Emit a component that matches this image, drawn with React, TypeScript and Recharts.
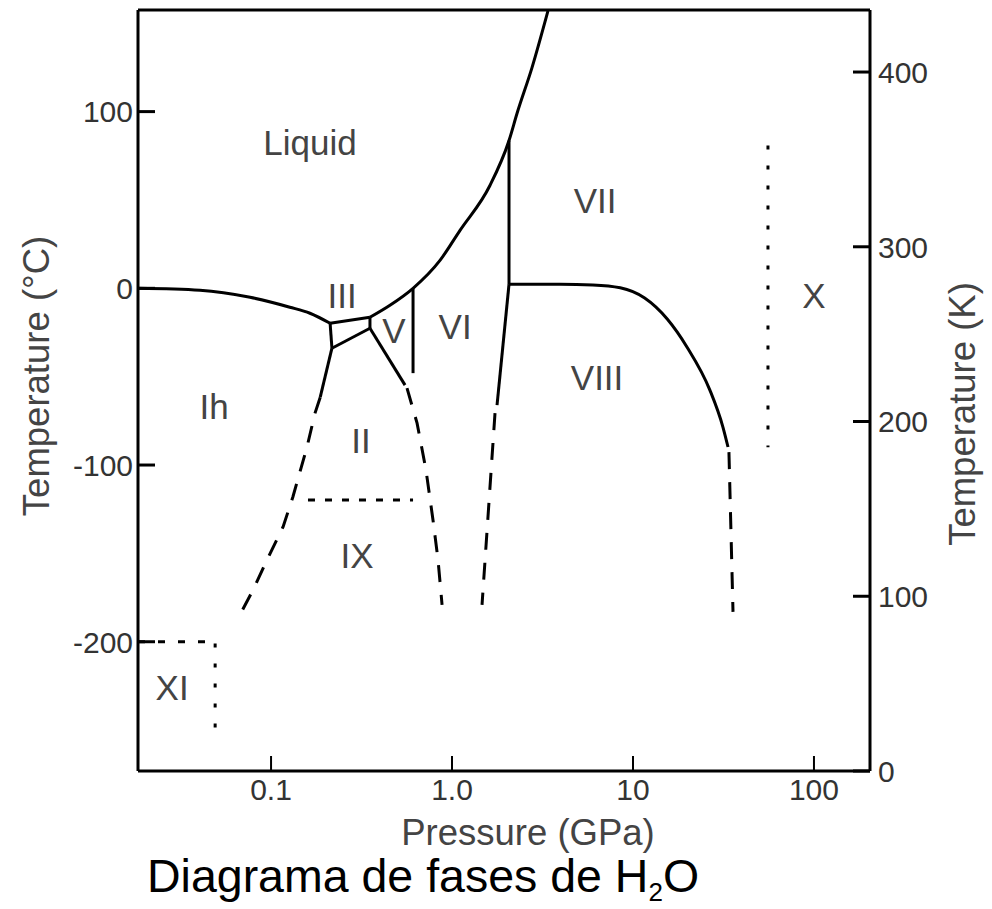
import { ComposedChart, Line, XAxis, YAxis, ReferenceDot, ReferenceLine } from "recharts";

const FONT = '"Liberation Sans", Arial, Helvetica, sans-serif';

type Pt = { p: number; t: number };

// pressure in GPa, temperature in °C
const ihLiquid: Pt[] = [
  { p: 0.0184, t: 0 },
  { p: 0.0405, t: -1.1 },
  { p: 0.0766, t: -5.1 },
  { p: 0.127, t: -10.7 },
  { p: 0.164, t: -14.1 },
  { p: 0.212, t: -19.8 },
];
const iiiLiquid: Pt[] = [
  { p: 0.212, t: -19.8 },
  { p: 0.352, t: -16.4 },
];
const highLiquid: Pt[] = [
  { p: 0.352, t: -16.4 },
  { p: 0.454, t: -9.6 },
  { p: 0.609, t: 0 },
  { p: 0.858, t: 15.8 },
  { p: 1.107, t: 32.8 },
  { p: 1.62, t: 58.2 },
  { p: 2.065, t: 83.6 },
  { p: 2.286, t: 98.9 },
  { p: 2.767, t: 124.9 },
  { p: 3.39, t: 157 },
];
const ihIii: Pt[] = [
  { p: 0.212, t: -19.8 },
  { p: 0.217, t: -33.9 },
];
const iiiIi: Pt[] = [
  { p: 0.217, t: -33.9 },
  { p: 0.352, t: -22.6 },
];
const iiiV: Pt[] = [
  { p: 0.352, t: -16.4 },
  { p: 0.352, t: -22.6 },
];
const iiV: Pt[] = [
  { p: 0.352, t: -22.6 },
  { p: 0.55, t: -54.8 },
];
const vVi: Pt[] = [
  { p: 0.609, t: 0 },
  { p: 0.609, t: -48 },
];
const ihIiSolid: Pt[] = [
  { p: 0.217, t: -33.9 },
  { p: 0.187, t: -61.6 },
];
const ihIiDashed: Pt[] = [
  { p: 0.187, t: -61.6 },
  { p: 0.175, t: -70.6 },
  { p: 0.158, t: -89.8 },
  { p: 0.132, t: -118.1 },
  { p: 0.1165, t: -135 },
  { p: 0.095, t: -153.7 },
  { p: 0.0796, t: -170.6 },
  { p: 0.0674, t: -184.7 },
];
const iiViDashed: Pt[] = [
  { p: 0.564, t: -56.5 },
  { p: 0.641, t: -76.3 },
  { p: 0.718, t: -102.8 },
  { p: 0.785, t: -131.1 },
  { p: 0.837, t: -153.7 },
  { p: 0.881, t: -179.1 },
];
const iiIxDotted: Pt[] = [
  { p: 0.16, t: -119.8 },
  { p: 0.609, t: -119.8 },
];
const viVii: Pt[] = [
  { p: 2.065, t: 83.6 },
  { p: 2.065, t: 2.3 },
];
const viViiiSolid: Pt[] = [
  { p: 2.065, t: 2.3 },
  { p: 1.773, t: -66.1 },
];
const viViiiDashed: Pt[] = [
  { p: 1.728, t: -70.6 },
  { p: 1.465, t: -179.1 },
];
const viiViii: Pt[] = [
  { p: 2.065, t: 2.3 },
  { p: 3.95, t: 2.3 },
  { p: 6.0, t: 1.9 },
  { p: 8.5, t: 0.3 },
  { p: 11.6, t: -5.5 },
  { p: 15.5, t: -17.5 },
  { p: 19.9, t: -33.3 },
  { p: 26.6, t: -57.6 },
  { p: 31.4, t: -78.5 },
  { p: 33.5, t: -89.8 },
];
const viiiDashed: Pt[] = [
  { p: 33.9, t: -92.7 },
  { p: 35.7, t: -183.1 },
];
const xDotted: Pt[] = [
  { p: 55.7, t: 80.8 },
  { p: 55.7, t: -90 },
];
const xiDashed: Pt[] = [
  { p: 0.0184, t: -200 },
  { p: 0.0491, t: -200 },
];
const xiDotted: Pt[] = [
  { p: 0.0491, t: -201 },
  { p: 0.0491, t: -248.6 },
];

const phaseNames = ["Liquid", "III", "V", "VI", "Ih", "II", "IX", "XI", "VII", "VIII", "X"];
const phaseP = [0.164, 0.247, 0.478, 1.04, 0.0484, 0.314, 0.299, 0.0284, 6.17, 6.33, 100];
const phaseT = [82.5, -4, -23.7, -21.5, -67.2, -85.9, -151.4, -226, 49.7, -50.3, -4];

const pressureTicks = [0.1, 1, 10, 100];
const celsiusTicks = [100, 0, -100, -200];
const kelvinTicks = [0, 100, 200, 300, 400];

const P_DOMAIN = [0.0184, 204];
const C_DOMAIN = [-273.15, 157.5];
const K_DOMAIN = [0, 435.5];

// invisible series so the kelvin axis gets built
const kelvinAnchor = kelvinTicks.map((k) => ({ p: 1, k }));

const DASH = "17 13";
const boundaries = [
  { data: ihLiquid, type: "monotone" },
  { data: iiiLiquid },
  { data: highLiquid, type: "monotone" },
  { data: ihIii },
  { data: iiiIi },
  { data: iiiV },
  { data: iiV },
  { data: vVi },
  { data: ihIiSolid },
  { data: ihIiDashed, dash: DASH },
  { data: iiViDashed, dash: DASH },
  { data: iiIxDotted, dash: "7 10" },
  { data: viVii },
  { data: viViiiSolid },
  { data: viViiiDashed, dash: DASH },
  { data: viiViii, type: "monotone" },
  { data: viiiDashed, dash: DASH },
  { data: xDotted, dash: "4 16" },
  { data: xiDashed, dash: "7 13" },
  { data: xiDotted, dash: "4 16" },
];

const tickText = { fontSize: 30, fill: "#333", fontFamily: FONT };

function LeftTick({ x, y, payload }: any) {
  return (
    <g>
      <line x1={x} y1={y} x2={x + 17} y2={y} stroke="#000" strokeWidth={3} />
      <text x={x - 5} y={y} dy="0.36em" textAnchor="end" {...tickText}>
        {String(payload.value)}
      </text>
    </g>
  );
}

function RightTick({ x, y, payload }: any) {
  return (
    <g>
      <line x1={x} y1={y} x2={x - 17} y2={y} stroke="#000" strokeWidth={3} />
      <text x={x + 8} y={y} dy="0.36em" textAnchor="start" {...tickText}>
        {String(payload.value)}
      </text>
    </g>
  );
}

function BottomTick({ x, y, payload }: any) {
  const v = payload.value;
  const label = v === 1 ? "1.0" : String(v);
  return (
    <g>
      <line x1={x} y1={y} x2={x} y2={y - 15} stroke="#000" strokeWidth={2} />
      <text x={x} y={y + 29} textAnchor="middle" {...tickText}>
        {label}
      </text>
    </g>
  );
}

const titleStyle: React.CSSProperties = {
  position: "absolute",
  fontFamily: FONT,
  fontSize: 36.5,
  color: "#444",
  whiteSpace: "nowrap",
  lineHeight: 1,
};

export default function App() {
  return (
    <div style={{ position: "absolute", left: 0, top: 0, width: 992, height: 909, background: "#fff" }}>
      <ComposedChart width={992} height={909} margin={{ top: 10, right: 0, bottom: 0, left: 0 }}>
        <XAxis
          xAxisId="p"
          dataKey="p"
          type="number"
          scale="log"
          domain={P_DOMAIN}
          ticks={pressureTicks}
          interval={0}
          height={138}
          axisLine={{ stroke: "#000", strokeWidth: 3 }}
          tickLine={false}
          tickSize={0}
          tickMargin={0}
          tick={BottomTick}
        />
        <YAxis
          yAxisId="c"
          type="number"
          domain={C_DOMAIN}
          ticks={celsiusTicks}
          interval={0}
          width={138}
          axisLine={{ stroke: "#000", strokeWidth: 3 }}
          tickLine={false}
          tickSize={0}
          tickMargin={0}
          tick={LeftTick}
        />
        <YAxis
          yAxisId="k"
          orientation="right"
          type="number"
          domain={K_DOMAIN}
          ticks={kelvinTicks}
          interval={0}
          width={122}
          axisLine={{ stroke: "#000", strokeWidth: 3 }}
          tickLine={false}
          tickSize={0}
          tickMargin={0}
          tick={RightTick}
        />
        <ReferenceLine
          xAxisId="p"
          yAxisId="c"
          y={C_DOMAIN[1]}
          stroke="#000"
          strokeWidth={3}
          ifOverflow="visible"
        />
        <Line
          data={kelvinAnchor}
          dataKey="k"
          xAxisId="p"
          yAxisId="k"
          stroke="none"
          dot={false}
          activeDot={false}
          legendType="none"
          isAnimationActive={false}
        />
        {boundaries.map((b, i) => (
          <Line
            key={i}
            data={b.data}
            dataKey="t"
            xAxisId="p"
            yAxisId="c"
            type={(b.type as any) || "linear"}
            stroke="#000"
            strokeWidth={3}
            strokeDasharray={b.dash}
            dot={false}
            activeDot={false}
            legendType="none"
            isAnimationActive={false}
          />
        ))}
        {phaseNames.map((name, i) => (
          <ReferenceDot
            key={name}
            xAxisId="p"
            yAxisId="c"
            x={phaseP[i]}
            y={phaseT[i]}
            r={0}
            fill="none"
            stroke="none"
            label={{ value: name, position: "center", fill: "#444", fontSize: 35, fontFamily: FONT }}
          />
        ))}
      </ComposedChart>
      <div style={{ ...titleStyle, left: 37, top: 376, transform: "translate(-50%, -50%) rotate(-90deg)" }}>
        Temperature (°C)
      </div>
      <div style={{ ...titleStyle, left: 963, top: 414, transform: "translate(-50%, -50%) rotate(-90deg)" }}>
        Temperature (K)
      </div>
      <div style={{ ...titleStyle, left: 528, top: 833, transform: "translate(-50%, -50%)" }}>
        Pressure (GPa)
      </div>
      <div
        style={{
          position: "absolute",
          left: 147,
          top: 853,
          fontFamily: FONT,
          fontSize: 46.5,
          lineHeight: 1,
          color: "#000",
          whiteSpace: "nowrap",
        }}
      >
        Diagrama de fases de H
        <span style={{ fontSize: 26, position: "relative", top: 9 }}>2</span>O
      </div>
    </div>
  );
}
